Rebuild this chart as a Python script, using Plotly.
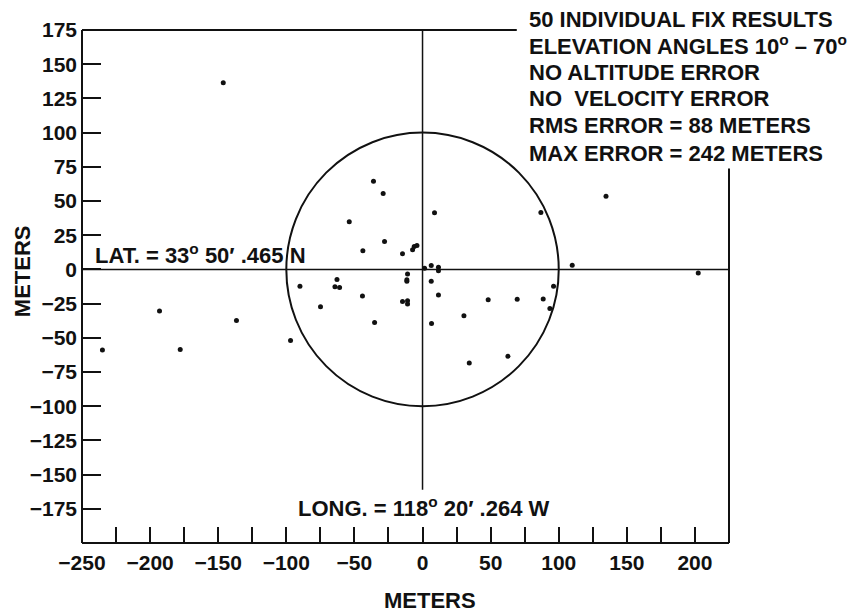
import plotly.graph_objects as go

# Individual position fixes: east/west and north/south error in meters
east_m = [-36.0, -28.9, 8.8, 86.9, -53.8, -27.9, -43.8, -14.7, -7.3, -6.1,
          -4.1, 1.5, 6.4, 11.7, 11.7, 109.9, -90.0, -62.8, -64.3, -60.9,
          -11.0, -11.5, -11.5, 6.4, 96.2, -44.1, 11.7, 48.2, 69.5, 88.6,
          93.5, -74.9, -14.7, -11.0, -11.0, 30.4, -35.2, 6.6, -96.9, 34.3,
          62.7, -146.3, -235.0, -193.1, -177.9, -136.6, 134.7, 202.4]
north_m = [64.4, 55.4, 41.4, 41.6, 34.8, 20.4, 13.6, 11.4, 14.3, 16.7,
           17.4, 0.8, 2.8, 1.5, -0.9, 3.0, -12.4, -7.3, -12.6, -13.3,
           -3.3, -7.5, -8.7, -8.7, -12.4, -19.4, -18.7, -22.1, -21.9, -21.6,
           -28.5, -27.3, -23.4, -22.9, -25.3, -33.9, -38.8, -39.5, -52.0, -68.5,
           -63.4, 136.4, -59.0, -30.4, -58.6, -37.3, 53.4, -2.6]

circle_radius_m = 100

x_tick_vals = [-250, -200, -150, -100, -50, 0, 50, 100, 150, 200]
x_tick_text = ["−250", "−200", "−150", "−100", "−50", "0", "50", "100", "150", "200"]
x_minor_vals = [-225, -175, -125, -75, -25, 25, 75, 125, 175]
y_tick_vals = list(range(-175, 176, 25))
y_tick_text = ["−175", "−150", "−125", "−100", "−75", "−50", "−25", "0",
               "25", "50", "75", "100", "125", "150", "175"]

summary_lines = [
    "50 INDIVIDUAL FIX RESULTS",
    "ELEVATION ANGLES 10<sup>o</sup> – 70<sup>o</sup>",
    "NO ALTITUDE ERROR",
    "NO\u00a0 VELOCITY ERROR",
    "RMS ERROR = 88 METERS",
    "MAX ERROR = 242 METERS",
]
summary_y = [1.0195, 0.9708, 0.918, 0.8655, 0.8129, 0.7583]

lat_label = "LAT. = 33<sup>o</sup> 50′ .465 N"
long_label = "LONG. = 118<sup>o</sup> 20′ .264 W"

FONT = "Liberation Sans, Arial, sans-serif"
INK = "#111111"

fig = go.Figure()
fig.add_trace(go.Scatter(
    x=east_m, y=north_m, mode="markers",
    marker=dict(size=5, color=INK),
    showlegend=False, hoverinfo="skip",
))

shapes = [
    # reference circle
    dict(type="circle", xref="x", yref="y",
         x0=-circle_radius_m, x1=circle_radius_m,
         y0=-circle_radius_m, y1=circle_radius_m,
         line=dict(color=INK, width=2)),
    # latitude / longitude cross lines
    dict(type="line", xref="paper", yref="y", x0=0, x1=1, y0=0, y1=0,
         line=dict(color=INK, width=1.5)),
    dict(type="line", xref="x", yref="paper", x0=0, x1=0, y0=1, y1=0.104,
         line=dict(color=INK, width=1.5)),
    # frame: left, bottom, partial top, partial right
    dict(type="line", xref="paper", yref="paper", x0=0, x1=0, y0=0, y1=1,
         line=dict(color=INK, width=2)),
    dict(type="line", xref="paper", yref="paper", x0=0, x1=1, y0=0, y1=0,
         line=dict(color=INK, width=2)),
    dict(type="line", xref="paper", yref="paper", x0=0, x1=0.672, y0=1, y1=1,
         line=dict(color=INK, width=2)),
    dict(type="line", xref="paper", yref="paper", x0=1, x1=1, y0=0, y1=0.730,
         line=dict(color=INK, width=2)),
]

label_font = dict(family=FONT, size=22, color=INK, weight="bold")

annotations = []
for line, yy in zip(summary_lines, summary_y):
    annotations.append(dict(
        text=line, x=0.6878, y=yy, xref="paper", yref="paper",
        xanchor="left", yanchor="middle", showarrow=False, font=label_font,
    ))
annotations.append(dict(
    text=lat_label, x=-241.8, y=11.5, xref="x", yref="y",
    xanchor="left", yanchor="middle", showarrow=False, font=label_font,
))
annotations.append(dict(
    text=long_label, x=-92.7, y=-173.5, xref="x", yref="y",
    xanchor="left", yanchor="middle", showarrow=False, font=label_font,
))
annotations.append(dict(
    text="METERS", x=0.538, y=-0.112, xref="paper", yref="paper",
    xanchor="center", yanchor="middle", showarrow=False, font=label_font,
))
annotations.append(dict(
    text="METERS", x=-0.0927, y=0.530, xref="paper", yref="paper",
    xanchor="center", yanchor="middle", showarrow=False, textangle=-90,
    font=label_font,
))

tick_font = dict(family=FONT, size=21, color=INK, weight="bold")

fig.update_layout(
    width=852, height=614,
    margin=dict(l=82, r=123, t=30, b=71),
    paper_bgcolor="white", plot_bgcolor="white",
    shapes=shapes, annotations=annotations,
    xaxis=dict(
        range=[-250, 225], tickvals=x_tick_vals, ticktext=x_tick_text,
        ticks="inside", ticklen=16, tickwidth=1.5, tickcolor=INK,
        minor=dict(tickvals=x_minor_vals, ticks="inside", ticklen=16,
                   tickwidth=1.5, tickcolor=INK, showgrid=False),
        showgrid=False, zeroline=False, showline=False,
        ticklabelstandoff=5, tickfont=tick_font,
    ),
    yaxis=dict(
        range=[-200, 175], tickvals=y_tick_vals, ticktext=y_tick_text,
        ticks="inside", ticklen=19, tickwidth=1.5, tickcolor=INK,
        showgrid=False, zeroline=False, showline=False,
        ticklabelstandoff=4, tickfont=tick_font,
    ),
)

fig.write_html("out.html")
